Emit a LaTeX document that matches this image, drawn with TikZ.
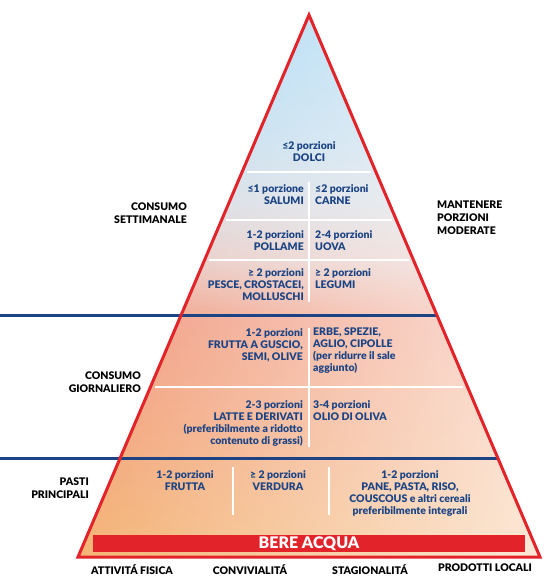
\documentclass[tikz,border=0pt]{standalone}
\usepackage{fontspec}
\setmainfont{Lato}[BoldFont={Lato Black}]
\usetikzlibrary{fadings}
\definecolor{navy}{RGB}{28,68,132}
\definecolor{pyrred}{RGB}{226,35,42}
\definecolor{shA}{RGB}{244,182,118}
\definecolor{shB}{RGB}{243,166,124}
\definecolor{shC}{RGB}{241,156,130}
\definecolor{shD}{RGB}{230,200,194}
\definecolor{shE}{RGB}{212,218,226}
\definecolor{shF}{RGB}{190,218,236}
\definecolor{shG}{RGB}{160,212,242}
\pgfdeclareverticalshading{pyramid}{100bp}{%
  color(0bp)=(shA); color(25bp)=(shA); color(36.7bp)=(shB);
  color(46.9bp)=(shC); color(52.4bp)=(shD); color(57.9bp)=(shE);
  color(63.5bp)=(shF); color(75bp)=(shG); color(100bp)=(shG)}
\tikzfading[name=lighten right,left color=transparent!100,
  middle color=transparent!85,right color=transparent!30]

\begin{document}
\begin{tikzpicture}[x=1pt,y=-1pt,
  foodtxt/.style={font=\fontsize{10.5}{12}\selectfont\bfseries,text=navy,inner sep=0pt},
  sidetxt/.style={font=\fontsize{10.5}{13}\selectfont\bfseries,inner sep=0pt},
  whiteline/.style={white,line width=2.5pt},
  bandline/.style={navy,line width=3pt}]
  \useasboundingbox (0,0) rectangle (553,582);
  \coordinate (apex) at (309,15);
  \coordinate (bl) at (78,557);
  \coordinate (br) at (540,557);

  \begin{scope}
    \clip (apex) -- (bl) -- (br) -- cycle;
    \shade[shading=pyramid] (78,15) rectangle (540,557);
    \fill[white,path fading=lighten right] (78,15) rectangle (540,557);
  \end{scope}

  \draw[whiteline] (247,172) -- (371,172);
  \draw[whiteline] (226,220) -- (392,220);
  \draw[whiteline] (209,260) -- (409,260);
  \draw[whiteline] (155,387) -- (463,387);
  \draw[whiteline] (309,182) -- (309,302);
  \draw[whiteline] (309,328) -- (309,447);
  \draw[whiteline] (233,467) -- (233,515);
  \draw[whiteline] (329,467) -- (329,515);

  \draw[bandline] (0,315) -- (436.6,315);
  \draw[bandline] (0,458) -- (497.5,458);
  \draw[pyrred,line width=3pt,line join=miter] (apex) -- (bl) -- (br) -- cycle;

  \node[fill=pyrred,minimum width=432pt,minimum height=17pt,inner sep=0pt,
    text=white,font=\fontsize{16}{16}\selectfont\bfseries] (acqua) at (309,543.5) {BERE ACQUA};

  \node[foodtxt,anchor=north,align=center] (dolci) at (309,141) {≤2 porzioni\\DOLCI};
  \node[foodtxt,anchor=north east,align=right] (salumi) at (304,184) {≤1 porzione\\SALUMI};
  \node[foodtxt,anchor=north west,align=left] (carne) at (315,184) {≤2 porzioni\\CARNE};
  \node[foodtxt,anchor=north east,align=right] (pollame) at (304,230) {1-2 porzioni\\POLLAME};
  \node[foodtxt,anchor=north west,align=left] (uova) at (315,230) {2-4 porzioni\\UOVA};
  \node[foodtxt,anchor=north east,align=right] (pesce) at (304,268)
    {≥ 2 porzioni\\PESCE, CROSTACEI,\\MOLLUSCHI};
  \node[foodtxt,anchor=north west,align=left] (legumi) at (315,268) {≥ 2 porzioni\\LEGUMI};
  \node[foodtxt,anchor=north east,align=right] (guscio) at (303,328)
    {1-2 porzioni\\FRUTTA A GUSCIO,\\SEMI, OLIVE};
  \node[foodtxt,anchor=north west,align=left] (erbe) at (313,328)
    {ERBE, SPEZIE,\\AGLIO, CIPOLLE\\(per ridurre il sale\\aggiunto)};
  \node[foodtxt,anchor=north east,align=right] (latte) at (303,400)
    {2-3 porzioni\\LATTE E DERIVATI\\(preferibilmente a ridotto\\contenuto di grassi)};
  \node[foodtxt,anchor=north west,align=left] (olio) at (313,400) {3-4 porzioni\\OLIO DI OLIVA};
  \node[foodtxt,anchor=north,align=center] (frutta) at (185,470) {1-2 porzioni\\FRUTTA};
  \node[foodtxt,anchor=north,align=center] (verdura) at (278,470) {≥ 2 porzioni\\VERDURA};
  \node[foodtxt,anchor=north,align=center] (cereali) at (410,470)
    {1-2 porzioni\\PANE, PASTA, RISO,\\COUSCOUS e altri cereali\\preferibilmente integrali};

  \node[sidetxt,anchor=north east,align=right] (settim) at (187,203) {CONSUMO\\SETTIMANALE};
  \node[sidetxt,anchor=north west,align=left] (moderate) at (437,201) {MANTENERE\\PORZIONI\\MODERATE};
  \node[sidetxt,anchor=north east,align=right] (giorn) at (141,372) {CONSUMO\\GIORNALIERO};
  \node[sidetxt,anchor=north east,align=right] (pasti) at (89,478) {PASTI\\PRINCIPALI};

  \node[sidetxt,anchor=north] (fisica) at (132,564) {ATTIVITÁ FISICA};
  \node[sidetxt,anchor=north] (convivio) at (250,564) {CONVIVIALITÁ};
  \node[sidetxt,anchor=north] (stagione) at (370,564) {STAGIONALITÁ};
  \node[sidetxt,anchor=north] (locali) at (485,564) {PRODOTTI LOCALI};
\end{tikzpicture}
\end{document}
